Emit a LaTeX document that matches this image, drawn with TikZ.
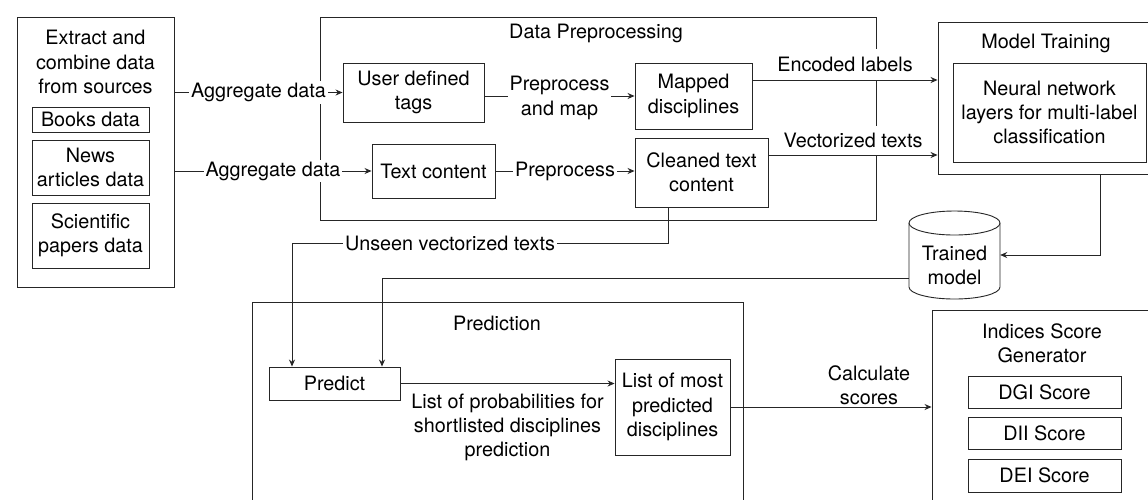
\documentclass[tikz,border=0pt]{standalone}
\usepackage{fontspec}
\setmainfont{TeX Gyre Heros}
\usetikzlibrary{arrows.meta,calc}
\begin{document}
\begin{tikzpicture}[x=1pt,y=-1pt,
  font=\fontsize{19.8}{24.2}\selectfont,
  box/.style={draw=black!85, line width=0.9pt, align=center, inner sep=0pt},
  cont/.style={draw=black!85, line width=0.9pt, inner sep=0pt},
  txt/.style={align=center, inner sep=0pt},
  lbl/.style={fill=white, align=center, inner sep=2pt},
  arr/.style={draw=black!85, line width=0.9pt, -{Stealth[length=7pt,width=6pt]}},
  ln/.style={draw=black!85, line width=0.9pt}]
\useasboundingbox (0,0) rectangle (1148,499);
\clip (0,0) rectangle (1148,499);
\fill[white] (0,0) rectangle (1148,499);

% Sources
\node[cont, minimum width=157pt, minimum height=270pt] (src) at (95.5,152) {};
\node[txt] (srct) at (95.5,62) {Extract and\\combine data\\from sources};
\node[box, minimum width=117pt, minimum height=25pt] (books) at (90.5,119.5) {Books data};
\node[box, minimum width=117pt, minimum height=55pt] (news) at (90.5,167.5) {News\\articles data};
\node[box, minimum width=117pt, minimum height=65pt] (sci) at (90.5,235.5) {Scientific\\papers data};

% Data preprocessing
\node[cont, minimum width=556pt, minimum height=203pt] (dp) at (598,118.5) {};
\node[txt] (dpt) at (596,33) {Data Preprocessing};
\node[box, minimum width=141pt, minimum height=59pt] (udt) at (413.5,92.5) {User defined\\tags};
\node[box, minimum width=123pt, minimum height=54pt] (tc) at (433.5,171) {Text content};
\node[box, minimum width=117pt, minimum height=66pt] (md) at (693.5,96) {Mapped\\disciplines};
\node[box, minimum width=133pt, minimum height=69pt] (ctc) at (701.5,172.5) {Cleaned text\\content};

% Model training
\node[cont, minimum width=222pt, minimum height=152pt] (mt) at (1049,98) {};
\node[txt] (mtt) at (1046,43) {Model Training};
\node[box, minimum width=193pt, minimum height=99pt] (nn) at (1049.5,112.5) {Neural network\\layers for multi-label\\classification};

% Trained model cylinder
\node[minimum width=91pt, minimum height=88pt, inner sep=0pt] (tm) at (954.5,255) {};
\draw[ln, fill=white] (909,223) -- (909,287) arc[start angle=180,end angle=0,x radius=45.5,y radius=12] -- (1000,223);
\draw[ln, fill=white] (954.5,223) ellipse [x radius=45.5, y radius=12];
\node[txt] (tmt) at (954.5,265.5) {Trained\\model};

% Prediction
\node[cont, minimum width=491pt, minimum height=208pt] (pd) at (497.5,406) {};
\node[txt] (pdt) at (497,323) {Prediction};
\node[box, minimum width=131pt, minimum height=33pt] (pr) at (334.5,383.5) {Predict};
\node[box, minimum width=115pt, minimum height=96pt] (lm) at (672.5,407) {List of most\\predicted\\disciplines};

% Indices
\node[cont, minimum width=228pt, minimum height=200pt] (isg) at (1046,410) {};
\node[txt] (isgt) at (1042,343) {Indices Score\\Generator};
\node[box, minimum width=153pt, minimum height=32pt] (dgi) at (1044.5,392) {DGI Score};
\node[box, minimum width=153pt, minimum height=32pt] (dii) at (1044.5,433) {DII Score};
\node[box, minimum width=153pt, minimum height=33pt] (dei) at (1044.5,475.5) {DEI Score};

% Connectors
\draw[arr] (src.east |- udt.west) -- node[lbl]{Aggregate data} (udt.west);
\draw[arr] (src.east |- tc.west) -- node[lbl]{Aggregate data} (tc.west);
\draw[arr] (udt.east |- md.west) -- node[lbl, yshift=-2pt]{Preprocess\\and map} (md.west);
\draw[arr] (tc.east) -- node[lbl]{Preprocess} (tc.east -| ctc.west);
\draw[arr] ([yshift=16pt]md.east) -- node[lbl, above, inner sep=8pt]{Encoded labels} ([yshift=16pt]md.east -| mt.west);
\draw[arr] ([yshift=17.5pt]ctc.east) -- node[lbl, above, inner sep=7pt]{Vectorized texts} ([yshift=17.5pt]ctc.east -| mt.west);
\draw[arr] ([xshift=51pt]mt.south) |- (tm.east);
\draw[arr] ([yshift=-23pt]tm.west) -| ([xshift=47.5pt]pr.north);
\draw[arr] ([xshift=-33.5pt]ctc.south) -- ++(0,36) -| ([xshift=-42.5pt]pr.north);
\node[lbl] (uvt) at (450,243) {Unseen vectorized texts};
\draw[arr] (pr.east) -- node[txt, below, inner sep=10pt]{List of probabilities for\\shortlisted disciplines\\prediction} (pr.east -| lm.west);
\draw[arr] (lm.east) -- (lm.east -| isg.west);
\node[txt, above, inner sep=2pt] (cs) at (869,407) {Calculate\\scores};
\end{tikzpicture}
\end{document}
